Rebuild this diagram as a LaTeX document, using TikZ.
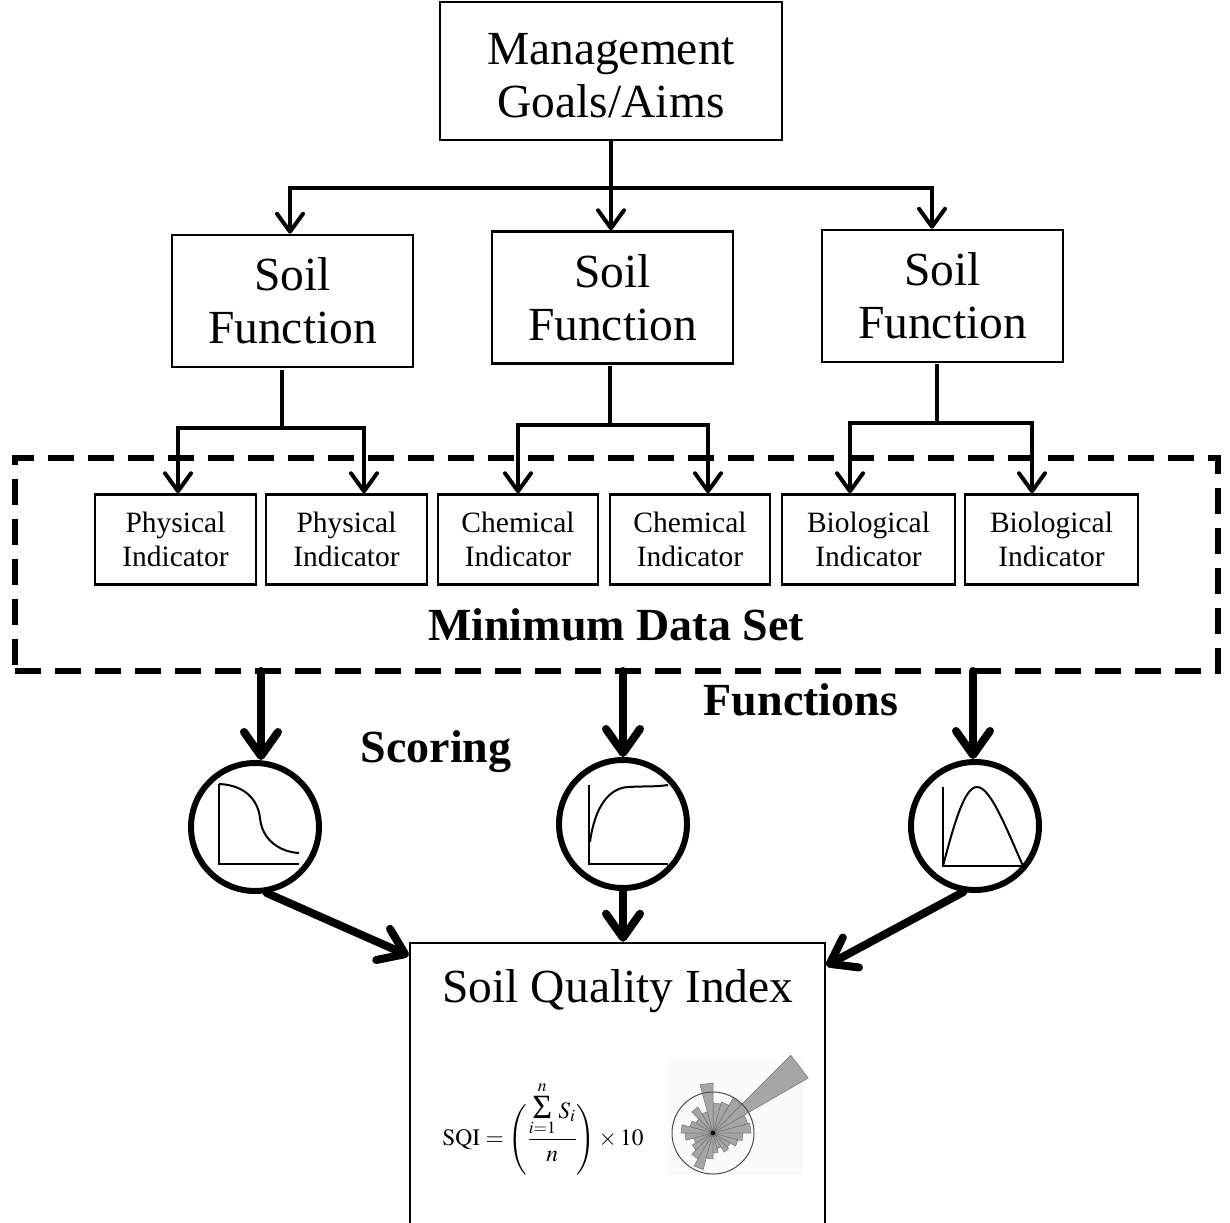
\documentclass[tikz,border=0pt]{standalone}
\usepackage{mathptmx}
\usepackage[no-math]{fontspec}
\setmainfont{Liberation Serif}
\usetikzlibrary{arrows.meta}

\begin{document}
\begin{tikzpicture}[x=1pt,y=-1pt,
  box/.style={draw, line width=2.5pt, inner sep=0pt},
  bigtxt/.style={font=\fontsize{47.5}{53}\selectfont, align=center},
  indtxt/.style={font=\fontsize{29.5}{34}\selectfont, align=center},
  boldlbl/.style={font=\fontsize{46}{50}\selectfont\bfseries, inner sep=0pt},
  link/.style={line width=4pt, line cap=rect},
  thinarrow/.style={line width=4pt, line cap=round, line join=round,
    -{Straight Barb[length=18pt,width=26pt,round]}},
  thickarrow/.style={line width=8pt, line cap=round, line join=round,
    -{Straight Barb[length=24pt,width=34pt,round]}},
  scorecircle/.style={circle, draw, line width=6pt, minimum size=128pt, inner sep=0pt},
  axis/.style={line width=2.5pt},
  curve/.style={line width=2pt},
]
\useasboundingbox (0,0) rectangle (1230,1222);
\clip (0,0) rectangle (1230,1222);

% goals and soil functions
\node[box, minimum width=342pt, minimum height=138pt] (goals) at (611,71) {};
\node[bigtxt] (goalstxt) at (611,76) {Management\\Goals/Aims};
\node[box, minimum width=241pt, minimum height=132pt, bigtxt] (sf1) at (292.5,301) {Soil\\Function};
\node[box, minimum width=241pt, minimum height=132pt, bigtxt] (sf2) at (612.5,297.5) {Soil\\Function};
\node[box, minimum width=241pt, minimum height=132pt, bigtxt] (sf3) at (942.5,296) {Soil\\Function};

\coordinate (hl) at (290,188);
\coordinate (hr) at (932,188);
\draw[link] (hl) -- (hr);
\draw[thinarrow] (goals.south) -- (goals.south |- sf2.north);
\draw[thinarrow] (hl) -- (hl |- sf1.north);
\draw[thinarrow] (hr) -- (hr |- sf3.north);

% minimum data set frame
\node[draw, line width=5.5pt, dash pattern=on 26pt off 14pt, minimum width=1203pt, minimum height=213pt, inner sep=0pt] (mds) at (616.5,564.5) {};

% indicators
\node[box, minimum width=161pt, minimum height=90pt, indtxt] (i1) at (175.5,539.5) {Physical\\Indicator};
\node[box, minimum width=161pt, minimum height=90pt, indtxt] (i2) at (346.5,539.5) {Physical\\Indicator};
\node[box, minimum width=160pt, minimum height=90pt, indtxt] (i3) at (518,539.5) {Chemical\\Indicator};
\node[box, minimum width=160pt, minimum height=90pt, indtxt] (i4) at (690,539.5) {Chemical\\Indicator};
\node[box, minimum width=173pt, minimum height=90pt, indtxt] (i5) at (868.5,539.5) {Biological\\Indicator};
\node[box, minimum width=173pt, minimum height=90pt, indtxt] (i6) at (1051.5,539.5) {Biological\\Indicator};

% branches from soil functions to indicators
\coordinate (t1) at (282,372); \coordinate (m1) at (282,428);
\coordinate (l1) at (178,428); \coordinate (r1) at (364,428);
\draw[link] (t1) -- (m1);
\draw[link] (l1) -- (r1);
\draw[thinarrow] (l1) -- (l1 |- i1.north);
\draw[thinarrow] (r1) -- (r1 |- i2.north);

\coordinate (t2) at (610,368); \coordinate (m2) at (610,425);
\coordinate (l2) at (518,425); \coordinate (r2) at (708,425);
\draw[link] (t2) -- (m2);
\draw[link] (l2) -- (r2);
\draw[thinarrow] (l2) -- (l2 |- i3.north);
\draw[thinarrow] (r2) -- (r2 |- i4.north);

\coordinate (t3) at (937,366); \coordinate (m3) at (937,423);
\coordinate (l3) at (850,423); \coordinate (r3) at (1032,423);
\draw[link] (t3) -- (m3);
\draw[link] (l3) -- (r3);
\draw[thinarrow] (l3) -- (l3 |- i5.north);
\draw[thinarrow] (r3) -- (r3 |- i6.north);

% labels
\node[boldlbl, anchor=base] (mdslbl) at (616,640) {Minimum Data Set};
\node[boldlbl] (funlbl) at (801,700) {Functions};
\node[boldlbl] (scolbl) at (436,752) {Scoring};

% scoring function circles
\node[scorecircle] (c1) at (255,827) {};
\node[scorecircle] (c2) at (623,824) {};
\node[scorecircle] (c3) at (975,826) {};

\coordinate (d1) at (261,671);
\coordinate (d2) at (623,671);
\coordinate (d3) at (973,671);
\draw[thickarrow] (d1) -- (d1 |- c1.north);
\draw[thickarrow] (d2) -- (c2.north);
\draw[thickarrow] (d3) -- (d3 |- c3.north);

% curve: decreasing
\draw[axis] (219,784) -- (219,864) -- (299,864);
\draw[curve] (219,784) .. controls (245,785) and (258,800) .. (260,818)
  .. controls (262,840) and (280,852) .. (299,853);
% curve: saturating
\draw[axis] (589,785) -- (589,864) -- (668,864);
\draw[curve] (590,842) .. controls (595,805) and (610,788) .. (628,787)
  .. controls (645,786) and (655,787) .. (668,785);
% curve: optimum
\draw[axis] (943,787) -- (943,866) -- (1023,866);
\draw[curve] (943,866) .. controls (955,820) and (965,787) .. (977,787)
  .. controls (990,787) and (1005,825) .. (1023,866);

% soil quality index
\node[box, minimum width=415pt, minimum height=300pt] (sqi) at (617.5,1093) {};
\node[font=\fontsize{47.5}{53}\selectfont, anchor=base] (sqititle) at (618,1002) {Soil Quality Index};

\draw[thickarrow] (c1.-80) -- ([yshift=-14pt]sqi.north west);
\draw[thickarrow] (c2.south) -- (c2.south |- sqi.north);
\draw[thickarrow] (c3.-100) -- ([yshift=-24pt]sqi.north east);

% formula
\node[font=\fontsize{23.5}{27}\selectfont, inner sep=0pt] (formula) at (543,1128)
  {$\mathrm{SQI} = \Biggl({\displaystyle\frac{\mathop{\hbox{\fontsize{34}{34}\selectfont Σ}}\limits_{i=1}^{n} S_i}{n}}\Biggr) \times 10$};

% rose diagram
\fill[black!2] (668,1060) rectangle (803,1175);
\begin{scope}[shift={(713,1133)}, yscale=-1]
  \foreach \a/\r in {7.5/38, 22.5/36, 37.5/110, 52.5/40, 67.5/32, 82.5/30, 97.5/50,
      112.5/22, 127.5/30, 142.5/20, 157.5/24, 172.5/32, 187.5/28, 202.5/20,
      217.5/24, 232.5/30, 247.5/38, 262.5/26, 277.5/20, 292.5/16, 307.5/22,
      322.5/20, 337.5/26, 352.5/30}
    \filldraw[fill=black!35, draw=black!55, line width=0.5pt]
      (0,0) -- (\a-7.5:\r) -- (\a+7.5:\r) -- cycle;
  \draw[black!70, line width=1pt] (0,0) circle[radius=41];
  \fill[black] (0,0) circle[radius=2.2];
\end{scope}
\end{tikzpicture}
\end{document}
